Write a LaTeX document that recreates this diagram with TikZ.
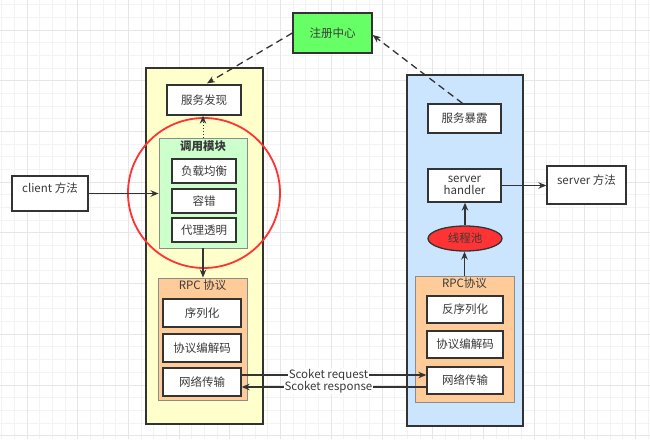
\documentclass[tikz,border=0pt]{standalone}
\usepackage{fontspec}
\setmainfont{Noto Sans CJK SC}
\usetikzlibrary{arrows.meta,calc,shapes.geometric}
\definecolor{dk}{HTML}{333333}
\definecolor{txt}{HTML}{3A3A3A}
\definecolor{gmin}{HTML}{F3F3F3}
\definecolor{gmaj}{HTML}{E6E6E6}
\definecolor{regg}{HTML}{66FF66}
\definecolor{yel}{HTML}{FFFFCC}
\definecolor{blu}{HTML}{CCE5FF}
\definecolor{grn}{HTML}{CCFFCC}
\definecolor{org}{HTML}{FFCC99}
\definecolor{redc}{HTML}{FF3333}
\definecolor{cbord}{HTML}{8C8C8C}
\newcommand{\fs}{\fontsize{11.5}{13.5}\selectfont}
\tikzset{
  box/.style={draw=dk, fill=white, line width=1.3pt, inner sep=0pt, text=txt, font=\fs, align=center},
  outer/.style={draw=dk, line width=1.3pt, inner sep=0pt},
  inner/.style={draw=cbord, line width=0.9pt, inner sep=0pt},
  grp/.style={text=txt, font=\fs, inner sep=0pt},
  arr/.style={draw=dk, line width=1.3pt, -{Stealth[length=8pt,width=6.5pt]}},
  dash arr/.style={arr, dash pattern=on 7pt off 4.5pt},
  dot arr/.style={arr, line width=1pt, dash pattern=on 1pt off 2pt},
  lab/.style={fill=white, text=txt, font=\fs, inner sep=1pt}
}
\begin{document}
\begin{tikzpicture}[x=1pt,y=-1pt]
\useasboundingbox (0,0) rectangle (650,439);
\fill[white] (0,0) rectangle (650,439);
% grid
\foreach \i in {0,...,51} {\draw[gmin, line width=0.8pt] ({1.65+\i*12.675},0) -- ++(0,439);}
\foreach \i in {0,...,34} {\draw[gmin, line width=0.8pt] (0,{4.65+\i*12.675}) -- ++(650,0);}
\foreach \i in {0,...,12} {\draw[gmaj, line width=0.8pt] ({27+\i*50.7},0) -- ++(0,439);}
\foreach \i in {0,...,8} {\draw[gmaj, line width=0.8pt] (0,{30+\i*50.7}) -- ++(650,0);}

% containers
\node[outer, fill=yel, minimum width=117pt, minimum height=356pt] (L) at (204.5,246) {};
\node[outer, fill=blu, minimum width=116pt, minimum height=351pt] (R) at (465,250.5) {};

% registry
\node[box, fill=regg, minimum width=79pt, minimum height=40pt] (reg) at (332.5,33) {注册中心};

% left side
\node[box, minimum width=74pt, minimum height=30pt] (fx) at (204,100) {服务发现};
\node[inner, fill=grn, minimum width=88pt, minimum height=110pt] (dy) at (203,193) {};
\node[grp, font=\fs\bfseries] (dyl) at (203,146) {调用模块};
\node[box, minimum width=64pt, minimum height=24pt] (fz) at (204,171) {负载均衡};
\node[box, minimum width=64pt, minimum height=24pt] (rc) at (204,201) {容错};
\node[box, minimum width=64pt, minimum height=24pt] (dl) at (204,230) {代理透明};

\node[inner, fill=org, minimum width=89pt, minimum height=122pt] (lr) at (202.5,339) {};
\node[grp] (lrl) at (202.5,285) {RPC 协议};
\node[box, minimum width=78pt, minimum height=28pt] (xl) at (202,313) {序列化};
\node[box, minimum width=78pt, minimum height=28pt] (bl2) at (202,348) {协议编解码};
\node[box, minimum width=78pt, minimum height=28pt] (wl) at (202,382) {网络传输};

\node[box, minimum width=76pt, minimum height=35pt] (client) at (50,193.5) {client 方法\\[-2pt]\mbox{}};

% right side
\node[box, minimum width=73pt, minimum height=29pt] (bl) at (464.5,118.5) {服务暴露};
\node[box, minimum width=73pt, minimum height=33pt, font=\fontsize{11.5}{12.5}\selectfont] (sh) at (464.5,185.5) {server\\handler};
\node[box, minimum width=79pt, minimum height=38pt] (sm) at (586.5,185) {server 方法\\[-2pt]\mbox{}};
\node[draw=dk, fill=redc, line width=1.3pt, ellipse, minimum width=74pt, minimum height=25pt, inner sep=0pt, text=txt, font=\fs] (tp) at (465,238.5) {线程池};

\node[inner, fill=org, minimum width=99pt, minimum height=126pt] (rr) at (464.5,339) {};
\node[grp] (rrl) at (464.5,283) {RPC协议};
\node[box, minimum width=76pt, minimum height=27pt] (fxl) at (465,309.5) {反序列化};
\node[box, minimum width=76pt, minimum height=27pt] (xr) at (465,344.5) {协议编解码};
\node[box, minimum width=76pt, minimum height=27pt] (wr) at (465,380.5) {网络传输};

% red circle
\draw[redc, line width=1.8pt] (204,193) ellipse [x radius=76, y radius=75];

% connectors
\draw[dash arr] (reg.west) -- ($(fx.north)+(3,-1)$);
\draw[dash arr] ($(bl.north)+(-2,0)$) -- ($(reg.east)+(0,2)$);
\draw[dot arr] (dy.north) -- (dy.north |- fx.south);
\draw[arr] (client.east) -- (client.east -| dy.west);
\draw[arr] (dy.south) -- (dy.south |- lr.north);
\draw[arr] (rr.north) -- (rr.north |- tp.south);
\draw[arr] (tp.north) -- (tp.north |- sh.south);
\draw[arr] (sh.east) -- (sh.east -| sm.west);
\coordinate (q1) at ($(wl.east)+(0,-7)$);
\coordinate (q2) at ($(wr.west)+(0,6.5)$);
\draw[arr] (q1) -- node[lab, pos=0.47] {Scoket request} (q1 -| wr.west);
\draw[arr] (q2) -- node[lab, pos=0.53] {Scoket response} (q2 -| wl.east);
\end{tikzpicture}
\end{document}
